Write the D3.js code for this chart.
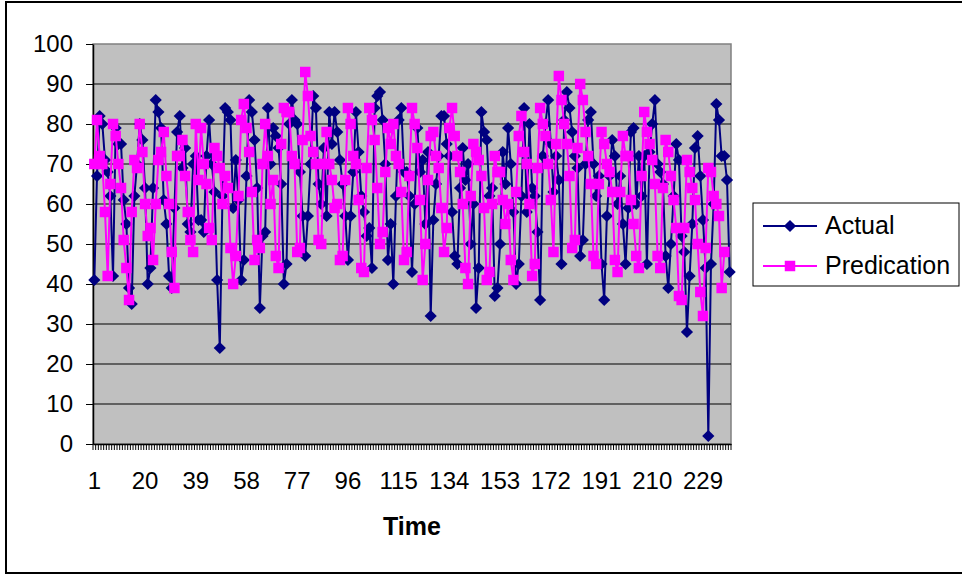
<!DOCTYPE html>
<html>
<head>
<meta charset="utf-8">
<script src="https://cdn.jsdelivr.net/npm/d3@7"></script>
<style>
  body { margin: 0; background: #fff; }
  svg { display: block; font-family: "Liberation Sans", Arial, sans-serif; }
</style>
</head>
<body>
<svg width="962" height="576" viewBox="0 0 962 576"></svg>
<script>
// Actual values, categories 1..239
const actual = [
  41, 67, 82, 80, 71, 68, 62, 42, 79, 75, 75, 61, 55, 39, 35, 62, 70, 80, 76, 64,
  40, 44, 64, 86, 83, 79, 61, 55, 42, 39, 59, 78, 82, 69, 74, 55, 53, 70, 72, 56,
  56, 53, 72, 81, 70, 63, 41, 24, 62, 84, 83, 81, 59, 71, 61, 41, 46, 67, 86, 83,
  76, 64, 34, 52, 53, 84, 70, 79, 77, 74, 65, 40, 45, 80, 86, 81, 80, 68, 57, 47,
  57, 70, 87, 84, 65, 60, 74, 57, 83, 75, 83, 78, 71, 65, 57, 46, 57, 68, 83, 73,
  62, 58, 52, 54, 44, 84, 87, 88, 81, 70, 46, 55, 40, 62, 81, 84, 68, 68, 62, 43,
  60, 79, 68, 71, 55, 73, 32, 56, 65, 72, 82, 82, 75, 72, 58, 47, 45, 64, 74, 66,
  70, 50, 60, 34, 44, 83, 78, 76, 62, 64, 37, 39, 50, 73, 65, 79, 70, 58, 40, 45,
  62, 84, 58, 80, 64, 62, 53, 36, 72, 80, 86, 75, 63, 72, 66, 45, 81, 88, 84, 78,
  72, 69, 47, 51, 70, 81, 83, 70, 62, 67, 45, 36, 57, 67, 76, 72, 60, 67, 55, 45,
  59, 78, 79, 60, 72, 62, 72, 45, 73, 80, 86, 70, 68, 65, 47, 39, 50, 62, 75, 71,
  52, 48, 28, 42, 55, 74, 77, 67, 56, 44, 2, 45, 60, 85, 81, 72, 72, 66, 43
];

// Predication values, categories 1..237
const predication = [
  70, 81, 72, 70, 58, 42, 65, 80, 77, 70, 64, 51, 44, 36, 58, 71, 69, 80, 73, 60,
  52, 54, 46, 60, 71, 73, 78, 67, 60, 48, 39, 72, 72, 76, 67, 58, 51, 48, 80, 66,
  79, 70, 65, 54, 51, 74, 72, 69, 60, 67, 64, 49, 40, 47, 62, 81, 85, 79, 73, 63,
  46, 51, 49, 70, 80, 72, 60, 66, 47, 44, 75, 84, 83, 83, 72, 70, 48, 49, 76, 93,
  87, 77, 73, 70, 51, 50, 70, 78, 70, 66, 59, 60, 46, 47, 66, 84, 80, 72, 70, 61,
  44, 43, 69, 84, 81, 76, 64, 50, 53, 68, 79, 75, 80, 72, 70, 63, 46, 48, 67, 84,
  80, 74, 61, 41, 50, 66, 77, 78, 72, 69, 59, 48, 54, 79, 84, 77, 72, 68, 60, 44,
  40, 62, 75, 73, 71, 67, 59, 41, 43, 60, 72, 68, 68, 61, 55, 60, 46, 41, 63, 77,
  82, 73, 70, 60, 42, 45, 69, 84, 80, 77, 70, 61, 48, 75, 92, 86, 80, 75, 67, 49,
  51, 74, 90, 86, 78, 72, 65, 47, 45, 65, 78, 75, 70, 68, 63, 46, 43, 63, 77, 72,
  72, 61, 55, 47, 44, 67, 83, 78, 75, 71, 65, 47, 44, 64, 76, 73, 67, 61, 54, 37,
  36, 54, 71, 68, 64, 61, 50, 38, 32, 49, 69, 68, 62, 60, 57, 39, 48
];

const categories = d3.range(1, actual.length + 1);
const xTickLabels = categories.filter(d => (d - 1) % 19 === 0);   // 1, 20, 39 ... 229
const yTicks = d3.range(0, 101, 10);
const seriesNames = ["Actual", "Predication"];

const svg = d3.select("svg");

// Plot area bounds
const plotLeft = 93, plotRight = 731, plotTop = 44, plotBottom = 444;

const x = d3.scaleBand().domain(categories).range([plotLeft, plotRight]).padding(0);
const y = d3.scaleLinear().domain([0, 100]).range([plotBottom, plotTop]);
const cx = d => x(d) + x.bandwidth() / 2;

// Chart area border
svg.append("rect")
    .attr("x", 6).attr("y", 2)
    .attr("width", 962).attr("height", 571)
    .attr("fill", "#fff")
    .attr("stroke", "#000")
    .attr("stroke-width", 2);

// Plot area
svg.append("rect")
    .attr("x", plotLeft).attr("y", plotTop)
    .attr("width", plotRight - plotLeft).attr("height", plotBottom - plotTop)
    .attr("fill", "#c0c0c0")
    .attr("stroke", "#808080")
    .attr("stroke-width", 1.5);

// Gridlines
svg.append("g")
    .selectAll("line")
    .data(yTicks.filter(d => d > 0 && d < 100))
    .enter()
    .append("line")
    .attr("x1", plotLeft).attr("x2", plotRight)
    .attr("y1", d => y(d)).attr("y2", d => y(d))
    .attr("stroke", "#000")
    .attr("stroke-width", 1);

// Y axis
const yAxis = svg.append("g")
    .attr("transform", `translate(${plotLeft},0)`)
    .call(d3.axisLeft(y).tickValues(yTicks).tickSize(7).tickPadding(13).tickSizeOuter(0));
yAxis.select(".domain").attr("stroke", "#000").attr("stroke-width", 1.5);
yAxis.selectAll("line").attr("stroke", "#000");
yAxis.selectAll("text")
    .attr("font-size", 24)
    .attr("fill", "#000")
    .style("font-family", "'Liberation Sans', Arial, sans-serif");

// X axis: ticks between every category
const xTicks = svg.append("g");
xTicks.selectAll("line")
    .data(categories.concat([null]))
    .enter()
    .append("line")
    .attr("x1", d => d === null ? plotRight : x(d))
    .attr("x2", d => d === null ? plotRight : x(d))
    .attr("y1", plotBottom).attr("y2", plotBottom + 6)
    .attr("stroke", "#000")
    .attr("stroke-width", 1);

const xAxis = svg.append("g")
    .attr("transform", `translate(0,${plotBottom})`)
    .call(d3.axisBottom(x).tickValues(xTickLabels).tickSize(0).tickPadding(28).tickSizeOuter(0));
xAxis.select(".domain").attr("stroke", "#000").attr("stroke-width", 1.5);
xAxis.selectAll("text")
    .attr("font-size", 24)
    .attr("fill", "#000")
    .style("font-family", "'Liberation Sans', Arial, sans-serif");

// Axis title
svg.append("text")
    .attr("x", (plotLeft + plotRight) / 2)
    .attr("y", 535)
    .attr("text-anchor", "middle")
    .attr("font-size", 25)
    .attr("font-weight", "bold")
    .text("Time");

// Markers
const diamond = d3.symbol().type(d3.symbolDiamond2).size(95);
const square = d3.symbol().type(d3.symbolSquare).size(110);

const line = d3.line()
    .x((d, i) => cx(categories[i]))
    .y(d => y(d));

function drawSeries(values, color, symbol) {
    const g = svg.append("g");
    g.append("path")
        .datum(values)
        .attr("d", line)
        .attr("fill", "none")
        .attr("stroke", color)
        .attr("stroke-width", 2);
    g.selectAll("path.marker")
        .data(values)
        .enter()
        .append("path")
        .attr("class", "marker")
        .attr("d", symbol)
        .attr("transform", (d, i) => `translate(${cx(categories[i])},${y(d)})`)
        .attr("fill", color);
}

drawSeries(actual, "#000080", diamond);
drawSeries(predication, "#ff00ff", square);

// Legend
const legend = svg.append("g");
legend.append("rect")
    .attr("x", 753).attr("y", 203)
    .attr("width", 206).attr("height", 83)
    .attr("fill", "#fff")
    .attr("stroke", "#000")
    .attr("stroke-width", 1);

const legendItems = [
    { name: seriesNames[0], color: "#000080", symbol: diamond, y: 226 },
    { name: seriesNames[1], color: "#ff00ff", symbol: square, y: 266 }
];
legendItems.forEach(item => {
    legend.append("line")
        .attr("x1", 763).attr("x2", 817)
        .attr("y1", item.y).attr("y2", item.y)
        .attr("stroke", item.color)
        .attr("stroke-width", 2);
    legend.append("path")
        .attr("d", item.symbol)
        .attr("transform", `translate(790,${item.y})`)
        .attr("fill", item.color);
    legend.append("text")
        .attr("x", 825)
        .attr("y", item.y + 8)
        .attr("font-size", 25)
        .text(item.name);
});
</script>
</body>
</html>
